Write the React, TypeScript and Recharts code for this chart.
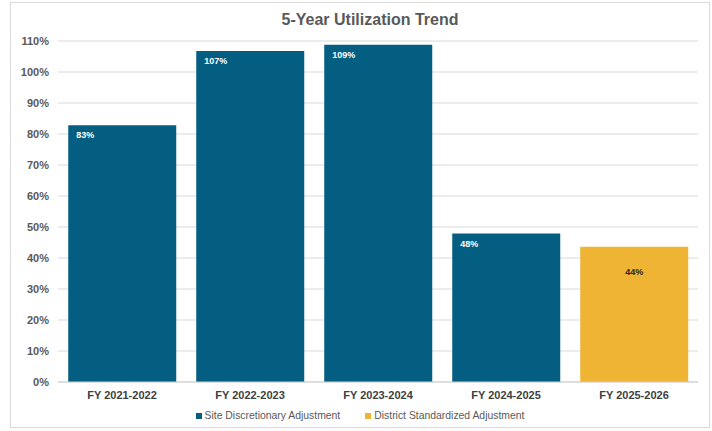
import { Bar, BarChart, CartesianGrid, LabelList, XAxis, YAxis } from "recharts";

const categories = ["FY 2021-2022", "FY 2022-2023", "FY 2023-2024", "FY 2024-2025", "FY 2025-2026"];
const siteValues = [82.8, 106.8, 108.8, 47.9, null];
const districtValues = [null, null, null, null, 43.6];
const yTicks = [0, 10, 20, 30, 40, 50, 60, 70, 80, 90, 100, 110];

const SITE_COLOR = "#035e82";
const DISTRICT_COLOR = "#f0b434";
const FONT = "'Liberation Sans', Arial, sans-serif";

const data = categories.map((name, i) => ({
  name,
  site: siteValues[i],
  district: districtValues[i],
}));

const legendItems = [
  { label: "Site Discretionary Adjustment", color: SITE_COLOR },
  { label: "District Standardized Adjustment", color: DISTRICT_COLOR },
];

function SiteLabel(props: any) {
  const { x, y, value } = props;
  if (value == null) return null;
  return (
    <text x={Number(x) + 8} y={Number(y) + 13} fill="#ffffff" fontSize={9} fontWeight="bold" fontFamily={FONT}>
      {`${Math.round(value)}%`}
    </text>
  );
}

function DistrictLabel(props: any) {
  const { x, y, width, value } = props;
  if (value == null) return null;
  return (
    <text
      x={Number(x) + Number(width) / 2}
      y={Number(y) + 28}
      fill="#262626"
      fontSize={9}
      fontWeight="bold"
      textAnchor="middle"
      fontFamily={FONT}
    >
      {`${Math.round(value)}%`}
    </text>
  );
}

export default function App() {
  return (
    <div
      style={{
        position: "absolute",
        left: 10,
        top: 2,
        width: 700,
        height: 426,
        border: "1px solid #d9d9d9",
        boxSizing: "border-box",
        background: "#fff",
        fontFamily: FONT,
      }}
    >
      <div
        style={{
          position: "absolute",
          top: 8,
          left: 10,
          width: "100%",
          textAlign: "center",
          fontSize: 16,
          lineHeight: "18px",
          fontWeight: "bold",
          color: "#595959",
        }}
      >
        5-Year Utilization Trend
      </div>
      <BarChart
        width={700}
        height={426}
        data={data}
        margin={{ top: 38, right: 13, left: 0, bottom: 0 }}
        barCategoryGap="8%"
      >
        <CartesianGrid vertical={false} stroke="#d9d9d9" />
        <XAxis
          dataKey="name"
          height={47}
          tickLine={false}
          tickSize={0}
          tickMargin={9}
          axisLine={{ stroke: "#d0d0d0" }}
          tick={{ fill: "#404040", fontSize: 11, fontWeight: "bold", fontFamily: FONT }}
        />
        <YAxis
          width={47}
          domain={[0, 110]}
          ticks={yTicks}
          interval={0}
          tickFormatter={(v) => `${v}%`}
          axisLine={false}
          tickLine={false}
          tickSize={0}
          tickMargin={9}
          tick={{ fill: "#595959", fontSize: 11, fontWeight: "bold", fontFamily: FONT }}
        />
        <Bar dataKey="site" stackId="a" fill={SITE_COLOR} isAnimationActive={false}>
          <LabelList dataKey="site" content={SiteLabel} />
        </Bar>
        <Bar dataKey="district" stackId="a" fill={DISTRICT_COLOR} isAnimationActive={false}>
          <LabelList dataKey="district" content={DistrictLabel} />
        </Bar>
      </BarChart>
      <div
        style={{
          position: "absolute",
          top: 406,
          left: 0,
          width: "100%",
          display: "flex",
          justifyContent: "center",
          gap: 25,
          fontSize: 10.4,
          color: "#595959",
          lineHeight: "14px",
        }}
      >
        {legendItems.map((item) => (
          <div key={item.label} style={{ display: "flex", alignItems: "center", gap: 3 }}>
            <span style={{ display: "inline-block", width: 6, height: 6, background: item.color }} />
            <span>{item.label}</span>
          </div>
        ))}
      </div>
    </div>
  );
}
